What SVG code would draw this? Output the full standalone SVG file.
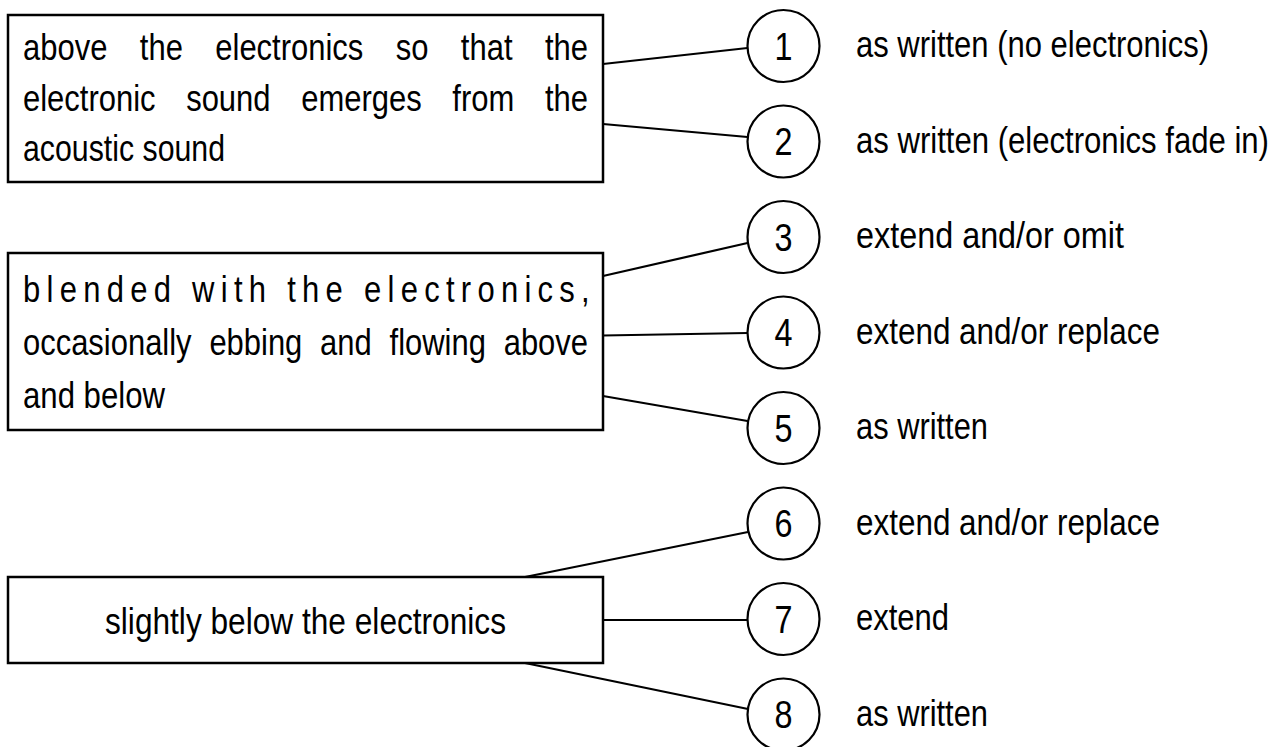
<svg xmlns="http://www.w3.org/2000/svg" width="1282" height="747" viewBox="0 0 1282 747">
<style>
.box{fill:#fff;stroke:#000;stroke-width:2.5}
.circ{fill:#fff;stroke:#000;stroke-width:2.2}
.conn line{stroke:#000;stroke-width:2.2}
.t{font-family:"Liberation Sans",Arial,sans-serif;font-size:36px;fill:#000}
.d{font-family:"Liberation Sans",Arial,sans-serif;font-size:39px;fill:#000;text-anchor:middle}
</style>
<rect width="1282" height="747" fill="#fff"/>
<g id="connectors" class="conn">
<line x1="603" y1="64" x2="747.5" y2="48"/>
<line x1="603" y1="124" x2="747.5" y2="137"/>
<line x1="603" y1="276" x2="747.5" y2="243"/>
<line x1="603" y1="335.5" x2="747.5" y2="333"/>
<line x1="603" y1="396" x2="747.5" y2="421"/>
<line x1="525" y1="577" x2="748" y2="532"/>
<line x1="603" y1="620" x2="747.5" y2="620"/>
<line x1="525" y1="663" x2="748" y2="709"/>
</g>
<g id="box1">
<rect class="box" x="8" y="15" width="595" height="167"/>
<text class="t" x="23" y="60" textLength="565" lengthAdjust="spacingAndGlyphs" word-spacing="27.7">above the electronics so that the</text>
<text class="t" x="23" y="110.5" textLength="565" lengthAdjust="spacingAndGlyphs" word-spacing="25.7">electronic sound emerges from the</text>
<text class="t" x="23" y="161" textLength="202" lengthAdjust="spacingAndGlyphs">acoustic sound</text>
</g>
<g id="box2">
<rect class="box" x="8" y="253" width="595" height="177"/>
<text class="t" x="23" y="302" textLength="573" lengthAdjust="spacingAndGlyphs" letter-spacing="7.3">blended with the electronics,</text>
<text class="t" x="23" y="355" textLength="565" lengthAdjust="spacingAndGlyphs" word-spacing="10.7">occasionally ebbing and flowing above</text>
<text class="t" x="23" y="408" textLength="142" lengthAdjust="spacingAndGlyphs">and below</text>
</g>
<g id="box3">
<rect class="box" x="8" y="577" width="595" height="86"/>
<text class="t" x="105" y="634" textLength="401" lengthAdjust="spacingAndGlyphs">slightly below the electronics</text>
</g>
<g id="n1"><circle class="circ" cx="783.5" cy="46" r="36"/><text class="d" x="783.5" y="59.5" textLength="18" lengthAdjust="spacingAndGlyphs">1</text><text class="t" x="856" y="57" textLength="353" lengthAdjust="spacingAndGlyphs">as written (no electronics)</text></g>
<g id="n2"><circle class="circ" cx="783.5" cy="141.5" r="36"/><text class="d" x="783.5" y="155" textLength="18" lengthAdjust="spacingAndGlyphs">2</text><text class="t" transform="translate(856 152.5) scale(0.864 1)" x="0" y="0">as written (electronics fade in)</text></g>
<g id="n3"><circle class="circ" cx="783.5" cy="237" r="36"/><text class="d" x="783.5" y="250.5" textLength="18" lengthAdjust="spacingAndGlyphs">3</text><text class="t" x="856" y="248" textLength="268" lengthAdjust="spacingAndGlyphs">extend and/or omit</text></g>
<g id="n4"><circle class="circ" cx="783.5" cy="332.5" r="36"/><text class="d" x="783.5" y="346" textLength="18" lengthAdjust="spacingAndGlyphs">4</text><text class="t" x="856" y="343.5" textLength="304" lengthAdjust="spacingAndGlyphs">extend and/or replace</text></g>
<g id="n5"><circle class="circ" cx="783.5" cy="428" r="36"/><text class="d" x="783.5" y="441.5" textLength="18" lengthAdjust="spacingAndGlyphs">5</text><text class="t" x="856" y="439" textLength="132" lengthAdjust="spacingAndGlyphs">as written</text></g>
<g id="n6"><circle class="circ" cx="783.5" cy="523.5" r="36"/><text class="d" x="783.5" y="537" textLength="18" lengthAdjust="spacingAndGlyphs">6</text><text class="t" x="856" y="534.5" textLength="304" lengthAdjust="spacingAndGlyphs">extend and/or replace</text></g>
<g id="n7"><circle class="circ" cx="783.5" cy="619" r="36"/><text class="d" x="783.5" y="632.5" textLength="18" lengthAdjust="spacingAndGlyphs">7</text><text class="t" x="856" y="630" textLength="93" lengthAdjust="spacingAndGlyphs">extend</text></g>
<g id="n8"><circle class="circ" cx="783.5" cy="714.5" r="36"/><text class="d" x="783.5" y="728" textLength="18" lengthAdjust="spacingAndGlyphs">8</text><text class="t" x="856" y="725.5" textLength="132" lengthAdjust="spacingAndGlyphs">as written</text></g>
</svg>
